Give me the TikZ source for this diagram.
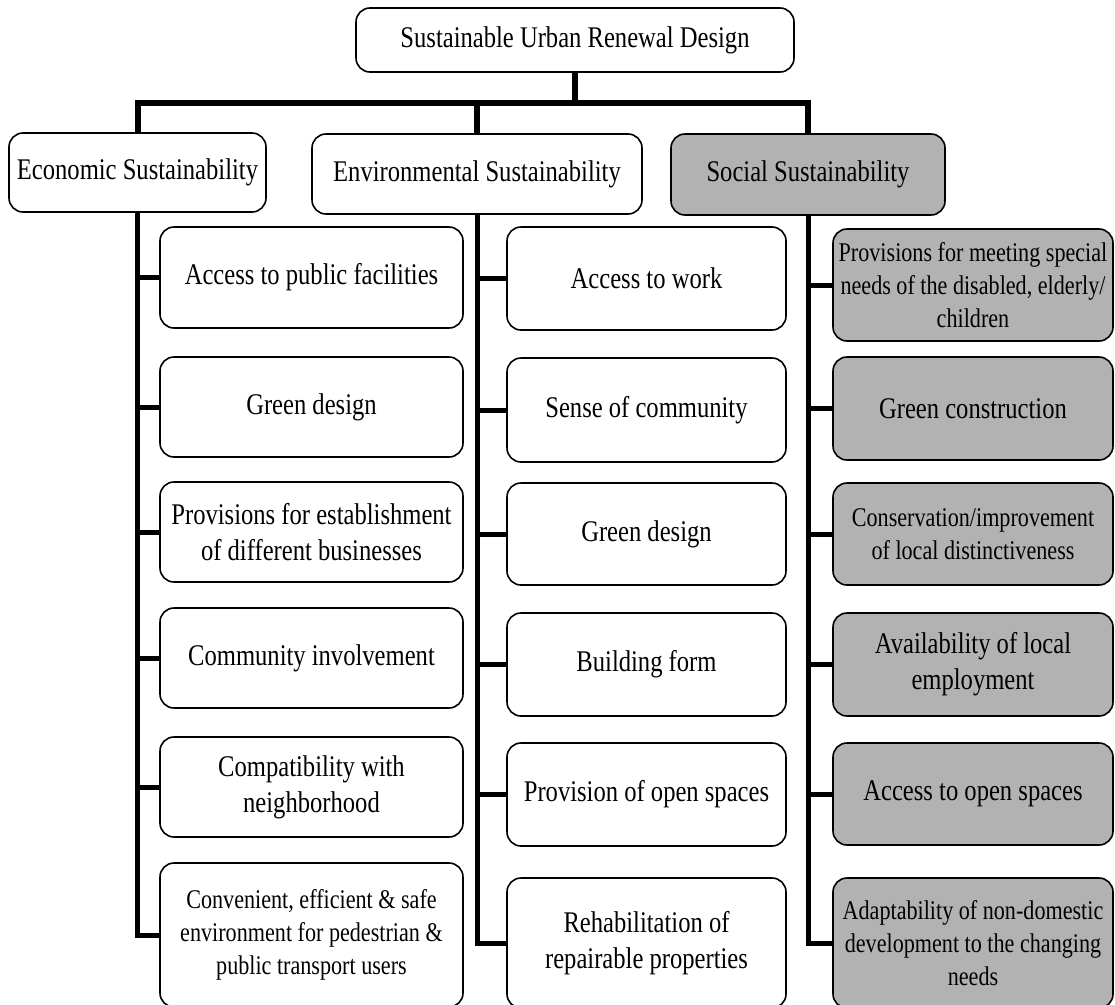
\documentclass[tikz,border=0pt]{standalone}
\usepackage{fontspec}
\setmainfont{Liberation Serif}[FakeStretch=0.82]
\definecolor{sgray}{RGB}{178,178,178}
\begin{document}
\begin{tikzpicture}[x=1pt,y=-1pt,
  box/.style={draw=black, line width=1.6pt, rounded corners=14pt, fill=white,
    align=center, inner sep=0pt, font=\fontsize{30}{36}\selectfont},
  gbox/.style={box, fill=sgray},
  small/.style={font=\fontsize{27}{33}\selectfont},
  wh/.style n args={2}{minimum width=#1pt, minimum height=#2pt},
  link/.style={line width=5pt, line join=miter},
  busline/.style={line width=6pt, line join=miter}]
\clip (0,0) rectangle (1115,1004);
\useasboundingbox (0,0) rectangle (1115,1004);
\fill[white] (0,0) rectangle (1115,1004);
% top level
\node[box, wh={438}{64}] (top) at (575,40) {Sustainable Urban Renewal Design};
% second level
\node[box, wh={257}{79}] (econ) at (137.5,172.5) {Economic Sustainability};
\node[box, wh={330}{80}] (env) at (477,174) {Environmental Sustainability};
\node[gbox, wh={274}{81}] (social) at (808,174.5) {Social Sustainability};
% economic children
\node[box, wh={303}{101}] (e1) at (311.5,277.5) {Access to public facilities};
\node[box, wh={303}{100}] (e2) at (311.5,407) {Green design};
\node[box, wh={303}{100}] (e3) at (311.5,532) {Provisions for establishment\\of different businesses};
\node[box, wh={303}{100}] (e4) at (311.5,658) {Community involvement};
\node[box, wh={303}{100}] (e5) at (311.5,787) {Compatibility with\\neighborhood};
\node[box, small, wh={303}{144}] (e6) at (311.5,935) {Convenient, efficient \& safe\\environment for pedestrian \&\\public transport users};
% environmental children
\node[box, wh={279}{103}] (v1) at (646.5,278.5) {Access to work};
\node[box, wh={279}{104}] (v2) at (646.5,410) {Sense of community};
\node[box, wh={279}{102}] (v3) at (646.5,534) {Green design};
\node[box, wh={279}{103}] (v4) at (646.5,664.5) {Building form};
\node[box, wh={279}{103}] (v5) at (646.5,794.5) {Provision of open spaces};
\node[box, wh={279}{130}] (v6) at (646.5,943) {Rehabilitation of\\repairable properties};
% social children
\node[gbox, small, wh={280}{112}] (s1) at (973,285) {Provisions for meeting special\\needs of the disabled, elderly/\\children};
\node[gbox, wh={280}{103}] (s2) at (973,408.5) {Green construction};
\node[gbox, small, wh={280}{102}] (s3) at (973,534) {Conservation/improvement\\of local distinctiveness};
\node[gbox, wh={280}{103}] (s4) at (973,664.5) {Availability of local\\employment};
\node[gbox, wh={280}{102}] (s5) at (973,794) {Access to open spaces};
\node[gbox, small, wh={280}{130}] (s6) at (973,943) {Adaptability of non-domestic\\development to the changing\\needs};
% bus
\coordinate (bus) at (575,103);
\draw[busline] (top.south) -- (bus);
\draw[busline] (econ.north) |- (bus) -| (social.north);
\draw[busline] (env.north) -- (env.north |- bus);
% trunks
\draw[link] (econ.south) -- (econ.south |- e6.west) -- (e6.west);
\foreach \n in {e1,e2,e3,e4,e5} \draw[link] (econ.south |- \n.west) -- (\n.west);
\draw[link] (env.south) -- (env.south |- v6.west) -- (v6.west);
\foreach \n in {v1,v2,v3,v4,v5} \draw[link] (env.south |- \n.west) -- (\n.west);
\draw[link] (social.south) -- (social.south |- s6.west) -- (s6.west);
\foreach \n in {s1,s2,s3,s4,s5} \draw[link] (social.south |- \n.west) -- (\n.west);
\end{tikzpicture}
\end{document}
